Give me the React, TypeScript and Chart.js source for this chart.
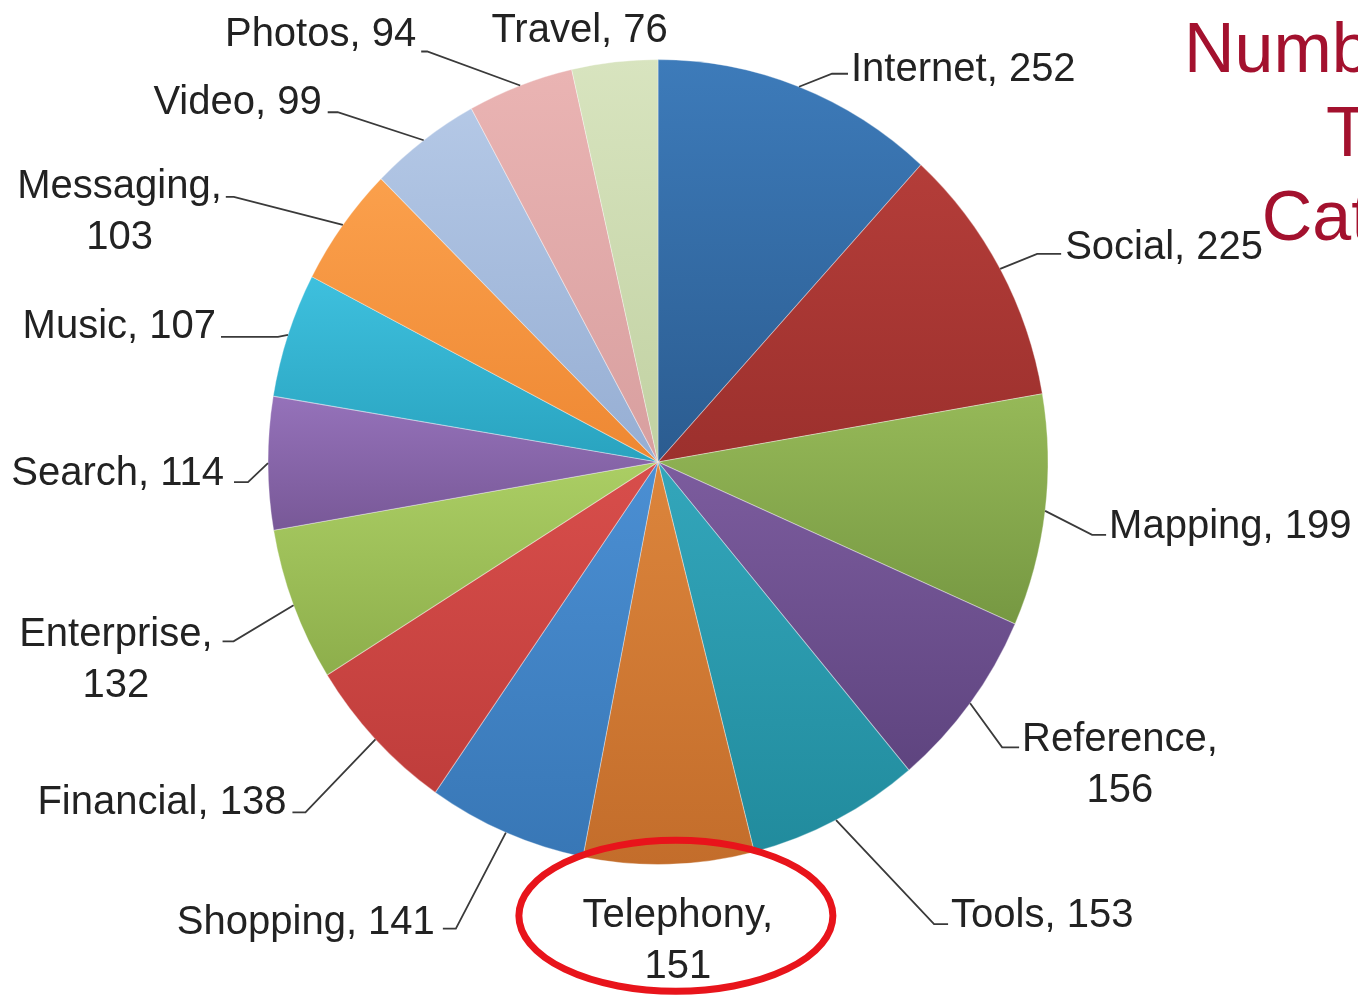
import React, { useEffect, useRef } from "react";
import { Chart, registerables } from "chart.js";

Chart.register(...registerables);

// ---------- data ----------
const categories = [
  "Internet", "Social", "Mapping", "Reference", "Tools", "Telephony", "Shopping",
  "Financial", "Enterprise", "Search", "Music", "Messaging", "Video", "Photos", "Travel",
];
const apiCounts = [252, 225, 199, 156, 153, 151, 141, 138, 132, 114, 107, 103, 99, 94, 76];
const titleLines = ["Number of APIs", "Top 15", "Categories"];
const highlightedCategory = "Telephony";

// ---------- styles ----------
const sliceColorsTop = [
  "#3d7bba", "#b43d39", "#96b958", "#7c5c9e", "#33a6bb", "#dc853c", "#4b8fd3", "#d84e4b",
  "#abce64", "#9572ba", "#3ec0de", "#fba04c", "#b4c8e6", "#eab4b3", "#d8e4bf",
];
const sliceColorsBottom = [
  "#2b5c90", "#9c302d", "#769842", "#5e447f", "#218b9d", "#c36d2b", "#3877b6", "#bf3d3b",
  "#8dae4b", "#785897", "#29a3bf", "#ee8833", "#96aed3", "#d89f9f", "#c1d1a2",
];
// pie is slightly taller than wide in the reference
const PIE_STRETCH_Y = 403 / 390.5;

// per label: [elbowDx, elbowDy, tailLen, textDx, baselineDy, twoLines]
const labelLayout: [number, number, number, number, number, boolean][] = [
  [33, -13, 16, 3, 7, false],
  [37, -15, 24, 4, 5, false],
  [47, 24, 14, 3, 3, false],
  [32, 44, 17, 3, 4, true],
  [98, 104, 14, 3, 3, false],
  [0, 0, 0, 9, 63, true],
  [-50, 96, -13, -8, 5, false],
  [-70, 73, -13, -6, 2, false],
  [-60, 36, -11, -10, 5, true],
  [-20, 19, -14, -10, 3, false],
  [-10, 2, -57, -5, 1, false],
  [-109, -28, -8, -4, 1, true],
  [-86, -28, -10, -6, 2, false],
  [-93, -34, -6, -5, -5, false],
  [0, 0, 0, -35, -20, false],
];

const LABEL_FONT = "40px 'Liberation Sans', Arial, sans-serif";
const TITLE_FONT = "70px 'Liberation Sans', Arial, sans-serif";

function sliceGradient(context: any) {
  const chart = context.chart;
  const area = chart.chartArea;
  const i = context.dataIndex;
  if (!area || i === undefined) return sliceColorsTop[i ?? 0];
  const cx = (area.left + area.right) / 2;
  const cy = (area.top + area.bottom) / 2;
  const r = Math.min(area.width, area.height) / 2;
  const total = apiCounts.reduce((a, b) => a + b, 0);
  let before = 0;
  for (let k = 0; k < i; k++) before += apiCounts[k];
  const a0 = (before / total) * Math.PI * 2 - Math.PI / 2;
  const a1 = ((before + apiCounts[i]) / total) * Math.PI * 2 - Math.PI / 2;
  const ys = [cy, cy + r * Math.sin(a0), cy + r * Math.sin(a1)];
  if (a0 <= Math.PI / 2 && a1 >= Math.PI / 2) ys.push(cy + r);
  if (a0 <= -Math.PI / 2 + 1e-6 || a1 >= (3 * Math.PI) / 2 - 1e-6) ys.push(cy - r);
  const minY = Math.min(...ys);
  const maxY = Math.max(...ys);
  const g = chart.ctx.createLinearGradient(0, minY, 0, maxY + 0.01);
  g.addColorStop(0, sliceColorsTop[i]);
  g.addColorStop(1, sliceColorsBottom[i]);
  return g;
}

const stretchPlugin = {
  id: "stretchPie",
  beforeDatasetsDraw(chart: any) {
    const el = chart.getDatasetMeta(0).data[0];
    if (!el) return;
    const ctx = chart.ctx;
    ctx.save();
    ctx.translate(el.x, el.y);
    ctx.scale(1, PIE_STRETCH_Y);
    ctx.translate(-el.x, -el.y);
  },
  afterDatasetsDraw(chart: any) {
    chart.ctx.restore();
  },
};

const labelPlugin = {
  id: "pieLabels",
  afterDraw(chart: any) {
    const ctx: CanvasRenderingContext2D = chart.ctx;
    const arcs = chart.getDatasetMeta(0).data;
    ctx.save();
    ctx.font = LABEL_FONT;
    ctx.textBaseline = "alphabetic";
    let ellipseAnchor: { x: number; y: number } | null = null;
    arcs.forEach((el: any, i: number) => {
      const mid = (el.startAngle + el.endAngle) / 2;
      const R = el.outerRadius;
      const ax = el.x + R * Math.cos(mid);
      const ay = el.y + R * PIE_STRETCH_Y * Math.sin(mid);
      const [edx, edy, tail, tdx, bdy, two] = labelLayout[i];
      const ex = ax + edx;
      const ey = ay + edy;
      const tx = ex + tail;
      if (tail !== 0) {
        ctx.strokeStyle = "#3a3a3a";
        ctx.lineWidth = 1.8;
        ctx.beginPath();
        ctx.moveTo(ax, ay);
        ctx.lineTo(ex, ey);
        ctx.lineTo(tx, ey);
        ctx.stroke();
      }
      const textX = tx + tdx;
      const base = ey + bdy;
      const align: CanvasTextAlign = tail > 0 ? "left" : tail < 0 ? "right" : "center";
      ctx.fillStyle = "#222222";
      const line1 = two ? `${categories[i]},` : `${categories[i]}, ${apiCounts[i]}`;
      ctx.textAlign = align;
      ctx.fillText(line1, textX, base);
      const w = ctx.measureText(line1).width;
      const center = align === "left" ? textX + w / 2 : align === "right" ? textX - w / 2 : textX;
      if (two) {
        ctx.textAlign = "center";
        ctx.fillText(String(apiCounts[i]), center, base + 51);
      }
      if (categories[i] === highlightedCategory) {
        ellipseAnchor = { x: center, y: base };
      }
    });
    if (ellipseAnchor) {
      const ea = ellipseAnchor as { x: number; y: number };
      ctx.strokeStyle = "#e8141b";
      ctx.lineWidth = 7;
      ctx.beginPath();
      ctx.ellipse(ea.x - 2, ea.y - 11.5, 157, 75.5, 0, 0, Math.PI * 2);
      ctx.stroke();
    }
    // title (cut off by the right edge, as in the reference)
    ctx.font = TITLE_FONT;
    ctx.fillStyle = "#a3112e";
    ctx.textAlign = "center";
    titleLines.forEach((t, k) => {
      ctx.fillText(t, 1431, 72 + k * 84);
    });
    ctx.restore();
  },
};

export default function App() {
  const canvasRef = useRef<HTMLCanvasElement | null>(null);

  useEffect(() => {
    if (!canvasRef.current) return;
    const chart = new Chart(canvasRef.current, {
      type: "pie",
      data: {
        labels: categories,
        datasets: [
          {
            data: apiCounts,
            backgroundColor: sliceGradient as any,
            borderColor: "rgba(255,255,255,0.35)",
            borderWidth: 1,
          },
        ],
      },
      options: {
        responsive: false,
        maintainAspectRatio: false,
        animation: false,
        events: [],
        layout: {
          padding: { left: 267.5, right: 309.5, top: 71.5, bottom: 144.5 },
        },
        plugins: {
          legend: { display: false },
          tooltip: { enabled: false },
          title: { display: false },
        },
      },
      plugins: [stretchPlugin, labelPlugin],
    });
    return () => chart.destroy();
  }, []);

  return (
    <div
      style={{
        position: "absolute",
        left: 0,
        top: 0,
        width: 1358,
        height: 997,
        overflow: "hidden",
        background: "#ffffff",
      }}
    >
      <canvas ref={canvasRef} width={1358} height={997} style={{ display: "block" }} />
    </div>
  );
}
